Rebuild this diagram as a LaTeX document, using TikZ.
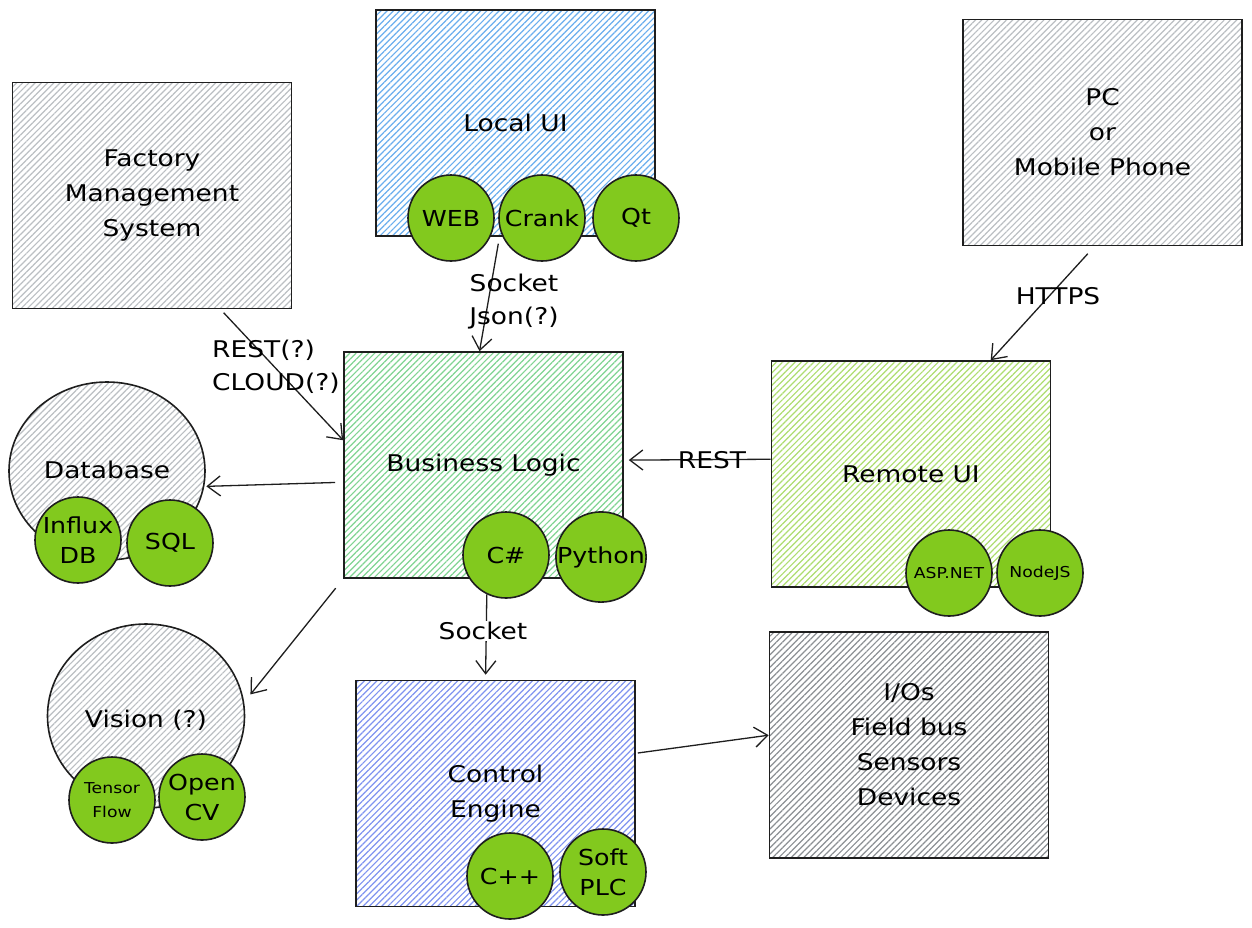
\documentclass[tikz,border=0pt]{standalone}
\usepackage{fontspec}
\setmainfont[FakeStretch=1.15]{DejaVu Sans}
\usetikzlibrary{arrows.meta,patterns.meta,shapes.geometric}
\definecolor{ink}{HTML}{1E1E1E}
\definecolor{lime}{HTML}{82C91E}
\definecolor{hblue}{HTML}{6AAEEE}
\definecolor{hgreen}{HTML}{80D492}
\definecolor{hlime}{HTML}{AEDD70}
\definecolor{hindigo}{HTML}{7F93F0}
\definecolor{hgray}{HTML}{BBBFC3}
\definecolor{hdgray}{HTML}{8C9094}
\tikzset{
  hatch/.style={pattern={Lines[angle=45,distance=4.4pt,line width=1.2pt]},pattern color=#1},
  box/.style={draw=ink,line width=1.6pt,minimum width=279pt,minimum height=226pt,
    align=center,inner sep=0pt,font=\fontsize{23}{35}\selectfont},
  blob/.style={ellipse,draw=ink,line width=1.6pt,hatch=hgray,align=center,inner sep=0pt,
    font=\fontsize{23}{35}\selectfont},
  tech/.style={circle,draw=ink,line width=1.6pt,fill=lime,minimum size=86pt,inner sep=0pt,
    align=center,font=\fontsize{22}{30}\selectfont},
  smalltech/.style={tech,font=\fontsize{15}{24}\selectfont},
  arr/.style={draw=ink,line width=1.3pt,-{Straight Barb[length=13pt,width=20pt,line width=1.3pt]}},
  lbl/.style={align=center,inner sep=1pt,font=\fontsize{23}{33}\selectfont}
}
\begin{document}
\begin{tikzpicture}[x=1pt,y=-1pt]
\useasboundingbox[fill=white] (0,0) rectangle (1252,927);
% boxes
\node[box,hatch=hgray] (fms) at (152,195.5) {Factory\\Management\\System};
\node[box,hatch=hblue] (lui) at (515.5,123) {Local UI};
\node[box,hatch=hgray] (pc) at (1102.5,132.5) {PC\\or\\Mobile Phone};
\node[box,hatch=hgreen] (bl) at (483.5,465) {Business Logic};
\node[box,hatch=hlime] (rui) at (911,474) {Remote UI};
\node[box,hatch=hindigo] (ce) at (495.5,793.5) {Control\\Engine};
\node[box,hatch=hdgray] (io) at (909,745) {I/Os\\Field bus\\Sensors\\Devices};
% blobs
\node[blob,minimum width=196pt,minimum height=178pt] (db) at (107,471) {};
\node at (107,470) [font=\fontsize{23}{35}\selectfont] (dbt) {Database};
\node[blob,minimum width=197pt,minimum height=184pt] (vis) at (146,716) {};
\node at (146,720) [font=\fontsize{23}{35}\selectfont] (vist) {Vision (?)};
% tech circles
\node[tech] (web) at (451,218) {WEB};
\node[tech] (crank) at (542,218) {Crank};
\node[tech] (qt) at (636,218) {Qt};
\node[tech] (cs) at (506,555) {C\#};
\node[tech] (py) at (601,557) {Python};
\node[smalltech] (asp) at (949,573) {ASP.NET};
\node[smalltech] (node) at (1040,573) {NodeJS};
\node[tech] (influx) at (78,540) {Influx\\DB};
\node[tech] (sql) at (170,543) {SQL};
\node[smalltech] (tf) at (112,800) {Tensor\\Flow};
\node[tech] (ocv) at (202,797) {Open\\CV};
\node[tech] (cpp) at (510,876) {C++};
\node[tech] (plc) at (603,872) {Soft\\PLC};
% connectors
\draw[arr,shorten <=5pt] (fms.-59) -- (bl.170);
\draw[arr,shorten <=7pt] (lui.-98) -- (bl.92);
\draw[arr,shorten <=10pt] (pc.-94) -- (rui.55.5);
\draw[arr,shorten >=5pt] (rui.174) -- (bl.2);
\draw[arr,shorten <=8pt,shorten >=2pt] (bl.187) -- (db.-9);
\draw[arr,shorten <=12pt,shorten >=10pt] (bl.south west) -- (vis.8);
\draw[arr,shorten >=5pt] (cs.-116) -- (ce.95.8);
\draw[arr,shorten <=2pt] (ce.16.6) -- (io.176.7);
% labels
\node[lbl,anchor=west,align=left] (l1) at (211,367) {REST(?)\\CLOUD(?)};
\node[lbl] (l2) at (514,302) {Socket\\Json(?)};
\node[lbl] (l3) at (1058,296) {HTTPS};
\node[lbl] (l4) at (712,460) {REST};
\node[lbl,fill=white] (l5) at (483,631) {Socket};
\end{tikzpicture}
\end{document}
